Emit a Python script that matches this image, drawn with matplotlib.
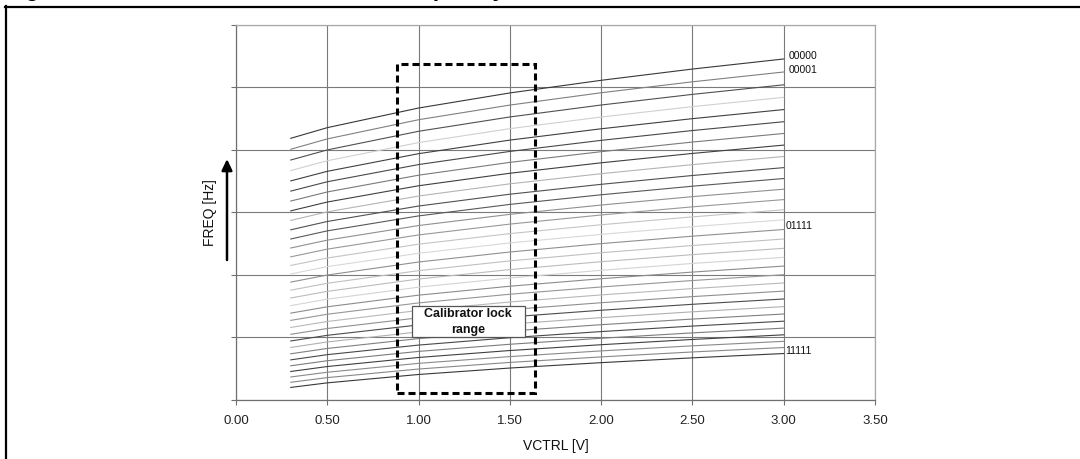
import matplotlib
matplotlib.use('Agg')
import matplotlib.pyplot as plt
from matplotlib.lines import Line2D
from matplotlib.patches import Rectangle

plt.rcParams['font.family'] = ['Liberation Sans', 'DejaVu Sans']

# DATA
vctrl = [0.3, 0.5, 1.0, 1.5, 2.0, 2.5, 3.0]   # control voltage [V]
codes = [format(i, '05b') for i in range(32)]  # trim codes 00000 .. 11111

# frequency (relative units, one row per trim code)
freq_curves = [
    [4.184, 4.354, 4.668, 4.909, 5.111, 5.291, 5.452],
    [4.009, 4.174, 4.481, 4.715, 4.912, 5.087, 5.244],
    [3.837, 3.998, 4.296, 4.525, 4.716, 4.886, 5.039],
    [3.668, 3.825, 4.115, 4.338, 4.524, 4.690, 4.839],
    [3.503, 3.656, 3.938, 4.155, 4.336, 4.498, 4.643],
    [3.340, 3.489, 3.764, 3.974, 4.151, 4.308, 4.449],
    [3.181, 3.326, 3.594, 3.799, 3.970, 4.124, 4.261],
    [3.024, 3.165, 3.425, 3.625, 3.792, 3.942, 4.075],
    [2.871, 3.008, 3.261, 3.456, 3.618, 3.763, 3.893],
    [2.721, 2.854, 3.101, 3.290, 3.448, 3.589, 3.715],
    [2.574, 2.704, 2.943, 3.127, 3.281, 3.418, 3.541],
    [2.430, 2.556, 2.789, 2.968, 3.117, 3.251, 3.370],
    [2.289, 2.412, 2.639, 2.812, 2.958, 3.088, 3.204],
    [2.151, 2.270, 2.491, 2.660, 2.802, 2.928, 3.041],
    [2.016, 2.132, 2.346, 2.511, 2.648, 2.771, 2.881],
    [1.885, 1.998, 2.206, 2.366, 2.500, 2.619, 2.726],
    [1.756, 1.866, 2.068, 2.224, 2.354, 2.470, 2.574],
    [1.631, 1.737, 1.934, 2.085, 2.211, 2.324, 2.425],
    [1.509, 1.612, 1.804, 1.951, 2.073, 2.183, 2.281],
    [1.389, 1.490, 1.676, 1.819, 1.939, 2.045, 2.141],
    [1.273, 1.371, 1.552, 1.691, 1.807, 1.910, 2.003],
    [1.160, 1.255, 1.432, 1.567, 1.680, 1.781, 1.871],
    [1.050, 1.143, 1.314, 1.445, 1.555, 1.653, 1.741],
    [0.944, 1.034, 1.200, 1.328, 1.435, 1.530, 1.615],
    [0.840, 0.928, 1.089, 1.214, 1.317, 1.410, 1.493],
    [0.739, 0.824, 0.982, 1.103, 1.204, 1.294, 1.375],
    [0.642, 0.725, 0.878, 0.996, 1.094, 1.182, 1.260],
    [0.547, 0.628, 0.777, 0.891, 0.987, 1.073, 1.149],
    [0.456, 0.535, 0.680, 0.791, 0.884, 0.968, 1.042],
    [0.368, 0.444, 0.586, 0.694, 0.785, 0.866, 0.938],
    [0.283, 0.358, 0.495, 0.601, 0.689, 0.768, 0.839],
    [0.201, 0.274, 0.408, 0.511, 0.597, 0.674, 0.743],
]

# grey tone of each series (the original is a greyscale print of excel colours)
series_greys = ['#383838', '#808080', '#505050', '#d0d0d0', '#404040', '#484848', '#7a7a7a', '#404040',
                '#b4b4b4', '#505050', '#585858', '#909090', '#989898', '#c4c4c4', '#d8d8d8', '#909090',
                '#c0c0c0', '#bcbcbc', '#d4d4d4', '#8c8c8c', '#969696', '#b8b8b8', '#909090', '#4c4c4c',
                '#b0b0b0', '#808080', '#484848', '#7c7c7c', '#404040', '#8a8a8a', '#888888', '#383838']

lock_range = (0.88, 1.64)       # calibrator lock range [V]
lock_freq = (0.117, 5.367)      # frequency span of the lock box

labelled = {'00000': 5.50, '00001': 5.276, '01111': 2.78, '11111': 0.788}

x_ticks = [0.0, 0.5, 1.0, 1.5, 2.0, 2.5, 3.0, 3.5]
y_ticks = [0, 1, 2, 3, 4, 5, 6]

# FIGURE
W, H = 1080, 459
fig = plt.figure(figsize=(W / 100, H / 100), dpi=100)
fig.patch.set_facecolor('white')
ax = fig.add_axes([236 / W, 1 - 400 / H, (875 - 236) / W, (400 - 24.7) / H])

for row, grey in zip(freq_curves, series_greys):
    ax.plot(vctrl, row, color=grey, lw=0.8, zorder=2)

ax.set_xlim(0, 3.5)
ax.set_ylim(0, 6)
ax.set_xticks(x_ticks)
ax.set_xticklabels([f'{v:.2f}' for v in x_ticks], fontsize=9.5, color='#222222')
ax.set_yticks(y_ticks)
ax.set_yticklabels([])
ax.tick_params(axis='both', direction='out', length=3.5, width=0.8, color='#707070')
ax.tick_params(axis='x', pad=7)
ax.grid(True, color='#7a7a7a', lw=0.8, zorder=1)
ax.set_axisbelow(True)

# DESIGN
for s in ['left', 'bottom']:
    ax.spines[s].set_color('#707070')
    ax.spines[s].set_linewidth(0.9)
for s in ['top', 'right']:
    ax.spines[s].set_color('#a8a8a8')
    ax.spines[s].set_linewidth(0.9)

ax.set_xlabel('VCTRL [V]', fontsize=10, color='#111111')
ax.xaxis.set_label_coords(0.5, -0.103)
ax.set_ylabel('FREQ [Hz]', fontsize=10, color='#111111', va='center')
ax.yaxis.set_label_coords(-0.041, 0.5)

# lock range box
ax.add_patch(Rectangle((lock_range[0], lock_freq[0]), lock_range[1] - lock_range[0], lock_freq[1] - lock_freq[0],
                       fill=False, ec='black', lw=2.2, ls=(0, (2.3, 1.3)), zorder=4))
ax.add_patch(Rectangle((0.962, 1.0), 0.621, 0.5, fc='white', ec='#555555', lw=0.9, zorder=5))
ax.text(1.272, 1.25, 'Calibrator lock\nrange', ha='center', va='center', fontsize=9,
        fontweight='bold', color='#111111', linespacing=1.4, zorder=6)

# code labels at the right end
for code, yv in labelled.items():
    xv = 3.028 if code.startswith('0000') else 3.01
    ax.text(xv, yv, code, fontsize=7.5, ha='left', va='center', color='#111111')

# arrow beside FREQ label
ax.annotate('', xy=(227, H - 159), xytext=(227, H - 260), xycoords='figure pixels',
            textcoords='figure pixels',
            arrowprops=dict(arrowstyle='-|>,head_length=0.55,head_width=0.26', color='black',
                            lw=1.8, mutation_scale=12, shrinkA=0, shrinkB=0))

# page frame and caption, cut off at the top edge as in the source page
fig.add_artist(Line2D([6 / W, 6 / W], [0, 1 - 6 / H], color='black', lw=1.6))
fig.add_artist(Line2D([5.3 / W, 1], [1 - 6.5 / H, 1 - 6.5 / H], color='black', lw=1.6))
fig.text(5 / W, 1 + 4 / H, 'Figure 12. Calibrator VCTRL versus frequency', fontsize=16.5,
         fontweight='bold', ha='left', va='baseline')

plt.savefig('out.png', dpi=100)
